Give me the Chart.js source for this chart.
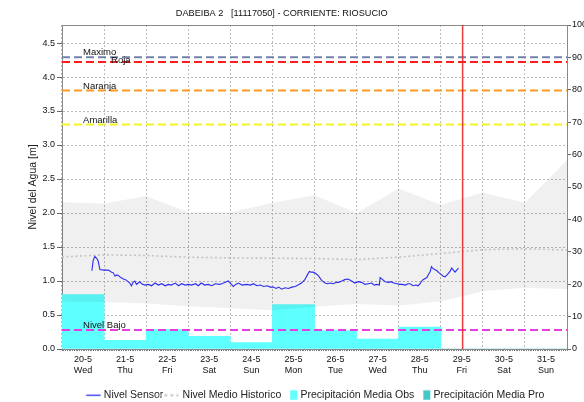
<!DOCTYPE html>
<html>
<head>
<meta charset="utf-8">
<script src="https://cdn.jsdelivr.net/npm/chart.js@4.4.1/dist/chart.umd.min.js"></script>
<style>
  html, body { margin: 0; padding: 0; background: #fff; }
</style>
</head>
<body>
<canvas id="chart" width="584" height="402"></canvas>
<script>
// x axis: one tick per day (0 = 20-5), range runs half a day past each end
const dayLabels = ['20-5', '21-5', '22-5', '23-5', '24-5', '25-5', '26-5', '27-5', '28-5', '29-5', '30-5', '31-5'];
const dayNames = ['Wed', 'Thu', 'Fri', 'Sat', 'Sun', 'Mon', 'Tue', 'Wed', 'Thu', 'Fri', 'Sat', 'Sun'];
const xMin = -0.5;
const xMax = 11.5;
const levelMax = 4.765;
const precipMax = 100;

// Nivel Sensor (m), position in days
const sensorDay = [
  0.21, 0.24, 0.28, 0.33, 0.36, 0.40, 0.50, 0.60, 0.68, 0.72,
  0.76, 0.80, 0.84, 0.90, 0.96, 1.01, 1.07, 1.11, 1.15, 1.19,
  1.23, 1.27, 1.31, 1.35, 1.39, 1.47, 1.55, 1.63, 1.71, 1.79,
  1.87, 1.95, 2.03, 2.10, 2.19, 2.27, 2.34, 2.43, 2.51, 2.58,
  2.67, 2.74, 2.81, 2.89, 2.97, 3.06, 3.14, 3.25, 3.34, 3.45,
  3.51, 3.57, 3.63, 3.69, 3.78, 3.89, 3.98, 4.05, 4.13, 4.21,
  4.29, 4.38, 4.45, 4.52, 4.59, 4.65, 4.72, 4.80, 4.88, 4.96,
  5.04, 5.11, 5.19, 5.27, 5.33, 5.38, 5.42, 5.47, 5.53, 5.59,
  5.67, 5.75, 5.81, 5.87, 5.95, 6.01, 6.07, 6.15, 6.22, 6.30,
  6.38, 6.46, 6.54, 6.62, 6.70, 6.78, 6.86, 6.92, 6.98, 7.04,
  7.06, 7.12, 7.18, 7.26, 7.32, 7.38, 7.46, 7.52, 7.58, 7.66,
  7.72, 7.77, 7.84, 7.91, 7.96, 8.01, 8.06, 8.11, 8.17, 8.21,
  8.25, 8.28, 8.32, 8.36, 8.41, 8.46, 8.52, 8.56, 8.60, 8.65,
  8.69, 8.72, 8.76, 8.80, 8.84, 8.88, 8.92
];
const sensorLevel = [
  1.15, 1.30, 1.36, 1.33, 1.29, 1.17, 1.16, 1.16, 1.13, 1.12,
  1.07, 1.09, 1.08, 1.05, 1.03, 1.02, 0.99, 0.97, 0.93, 0.98,
  1.00, 0.95, 0.97, 0.99, 0.96, 0.94, 0.95, 0.93, 0.97, 0.94,
  0.96, 0.93, 0.95, 0.94, 0.97, 0.93, 0.96, 0.94, 0.95, 0.94,
  0.96, 0.93, 0.97, 0.94, 0.95, 0.93, 0.96, 0.95, 0.97, 1.00,
  0.96, 0.92, 0.95, 0.97, 0.94, 0.95, 0.94, 0.96, 0.93, 0.94,
  0.92, 0.93, 0.91, 0.91, 0.89, 0.91, 0.88, 0.90, 0.89, 0.91,
  0.92, 0.94, 0.97, 1.02, 1.09, 1.14, 1.13, 1.13, 1.11, 1.08,
  1.01, 0.97, 0.96, 0.97, 0.96, 0.98, 0.98, 1.00, 1.02, 1.03,
  1.00, 0.97, 0.99, 0.98, 0.95, 0.96, 0.97, 0.94, 0.95, 0.94,
  1.05, 1.02, 0.99, 0.98, 0.99, 0.97, 0.96, 0.95, 0.95, 0.94,
  0.96, 0.96, 0.93, 0.94, 0.93, 0.96, 1.01, 1.03, 1.05, 1.10,
  1.14, 1.21, 1.18, 1.17, 1.15, 1.12, 1.09, 1.07, 1.06, 1.09,
  1.12, 1.14, 1.19, 1.16, 1.13, 1.16, 1.19
];

// historical band and mean (m), one value per midday
const histDay = [-0.5, 0.5, 1.5, 2.5, 3.5, 4.5, 5.5, 6.5, 7.5, 8.5, 9.5, 10.5, 11.5];
const histMax = [2.16, 2.14, 2.25, 2.01, 2.01, 2.15, 2.26, 2.00, 2.36, 2.12, 2.30, 2.15, 2.78];
const histMin = [0.70, 0.69, 0.67, 0.63, 0.60, 0.57, 0.62, 0.66, 0.64, 0.70, 0.85, 0.90, 0.88];
const histMean = [1.355, 1.385, 1.375, 1.35, 1.34, 1.335, 1.33, 1.315, 1.35, 1.405, 1.46, 1.475, 1.455];

// daily precipitation (right axis)
const precipObs = [16.8, 2.7, 6.0, 3.9, 2.0, 13.7, 5.7, 3.1, 6.8, null, null, null];
const precipPro = [null, null, null, null, null, null, null, null, null, 0, 0, 0];

// alert levels (m)
const thresholdNames = ['Maximo', 'Roja', 'Naranja', 'Amarilla', 'Nivel Bajo'];
const thresholdLevels = [4.29, 4.22, 3.80, 3.30, 0.28];
const thresholdColors = ['#7282a8', '#ff1c1c', '#ff9a22', '#f4f420', '#e23ee2'];

// current time marker (days)
const nowDay = 9.02;

const FONT = "'Liberation Sans', Arial, sans-serif";

const points = (xs, ys) => xs.map((x, i) => ({ x: x, y: ys[i] }));
const daily = ys => ys.map((y, i) => ({ x: i, y: y }));

// legend swatches drawn on little canvases
function swatch(draw) {
  const c = document.createElement('canvas');
  c.width = 36;
  c.height = 12;
  draw(c.getContext('2d'));
  return c;
}
const swatchSensor = swatch(g => {
  g.strokeStyle = '#2b2bef'; g.lineWidth = 1.3;
  g.beginPath(); g.moveTo(12.5, 6.5); g.lineTo(27, 6.5); g.stroke();
});
const swatchMean = swatch(g => {
  g.strokeStyle = '#c4c4c4'; g.lineWidth = 2; g.setLineDash([3, 3]);
  g.beginPath(); g.moveTo(6, 6.5); g.lineTo(26, 6.5); g.stroke();
});
const swatchObs = swatch(g => { g.fillStyle = '#5effff'; g.fillRect(20, 1.5, 7, 9.5); });
const swatchPro = swatch(g => { g.fillStyle = '#44c8c8'; g.fillRect(20, 1.5, 7, 9.5); });

const datasets = [
  {
    label: 'Nivel Sensor', type: 'line', yAxisID: 'y', order: 2,
    data: points(sensorDay, sensorLevel),
    borderColor: '#2b2bef', borderWidth: 1.1, pointRadius: 0, tension: 0
  },
  {
    label: 'Nivel Medio Historico', type: 'line', yAxisID: 'y', order: 4,
    data: points(histDay, histMean),
    borderColor: '#c2c2c2', borderWidth: 1.6, borderDash: [2, 2.5], pointRadius: 0
  },
  {
    label: 'Precipitación Media Obs', type: 'bar', yAxisID: 'y2', order: 10,
    data: daily(precipObs), backgroundColor: '#5effff', borderWidth: 0,
    grouped: false, barPercentage: 1, categoryPercentage: 1
  },
  {
    label: 'Precipitación Media Pro', type: 'bar', yAxisID: 'y2', order: 10,
    data: daily(precipPro), backgroundColor: '#44c8c8', borderWidth: 0,
    grouped: false, barPercentage: 1, categoryPercentage: 1
  },
  {
    label: 'hist max', type: 'line', yAxisID: 'y', order: 9,
    data: points(histDay, histMax),
    borderWidth: 0, pointRadius: 0, fill: '+1', backgroundColor: 'rgba(0,0,0,0.058)'
  },
  {
    label: 'hist min', type: 'line', yAxisID: 'y', order: 9,
    data: points(histDay, histMin),
    borderWidth: 0, pointRadius: 0, fill: false
  },
  {
    label: 'now', type: 'line', yAxisID: 'y', order: 1,
    data: [{ x: nowDay, y: 0 }, { x: nowDay, y: levelMax }],
    borderColor: 'rgba(228,40,40,0.9)', borderWidth: 1.5, pointRadius: 0
  }
];

thresholdNames.forEach((name, i) => {
  datasets.push({
    label: name, type: 'line', yAxisID: 'y', order: 5,
    data: [{ x: xMin, y: thresholdLevels[i] }, { x: xMax, y: thresholdLevels[i] }],
    borderColor: thresholdColors[i], borderWidth: 2, borderDash: [8, 4], pointRadius: 0
  });
});

// names written just above each alert line
const thresholdText = {
  id: 'thresholdText',
  afterDatasetsDraw(chart) {
    const ctx = chart.ctx;
    const xs = chart.scales.x;
    const ys = chart.scales.y;
    ctx.save();
    ctx.font = '9.5px ' + FONT;
    ctx.fillStyle = '#111';
    ctx.textBaseline = 'alphabetic';
    thresholdNames.forEach((name, i) => {
      const y = ys.getPixelForValue(thresholdLevels[i]);
      if (name === 'Roja') {
        ctx.fillText(name, xs.getPixelForValue(0) + 28, y + 0.5);
      } else {
        ctx.fillText(name, xs.getPixelForValue(0), y - 2);
      }
    });
    ctx.restore();
  }
};

const gridDots = { color: '#bcbcbc', lineWidth: 1 };

new Chart(document.getElementById('chart'), {
  type: 'line',
  data: { datasets: datasets },
  plugins: [thresholdText],
  options: {
    responsive: false,
    devicePixelRatio: 1,
    animation: false,
    events: [],
    layout: { padding: { left: 0, right: 0, top: 0, bottom: -8 } },
    font: { family: FONT },
    plugins: {
      title: {
        display: true,
        // trailing spaces keep the title a little left of centre, as in the original
        text: 'DABEIBA 2   [11117050] - CORRIENTE: RIOSUCIO        ',
        color: '#111',
        font: { family: FONT, size: 9.2, weight: 'normal' },
        padding: { top: 8, bottom: 5.96 }
      },
      legend: {
        position: 'bottom',
        fullSize: false,
        labels: {
          usePointStyle: true,
          pointStyleWidth: 14,
          padding: 0,
          color: '#222',
          font: { family: FONT, size: 10.5 },
          generateLabels: () => [
            { text: 'Nivel Sensor', pointStyle: swatchSensor, datasetIndex: 0, fontColor: '#222', hidden: false, lineWidth: 0 },
            { text: 'Nivel Medio Historico', pointStyle: swatchMean, datasetIndex: 1, fontColor: '#222', hidden: false, lineWidth: 0 },
            { text: 'Precipitación Media Obs', pointStyle: swatchObs, datasetIndex: 2, fontColor: '#222', hidden: false, lineWidth: 0 },
            { text: 'Precipitación Media Pro', pointStyle: swatchPro, datasetIndex: 3, fontColor: '#222', hidden: false, lineWidth: 0 }
          ]
        }
      },
      tooltip: { enabled: false }
    },
    scales: {
      x: {
        type: 'linear', position: 'bottom', weight: 1, offset: false,
        min: xMin, max: xMax,
        grid: { ...gridDots, drawTicks: false },
        border: { display: false, dash: [2, 2] },
        ticks: {
          autoSkip: false, maxRotation: 0,
          padding: 3.6, color: '#111',
          font: { family: FONT, size: 9, lineHeight: 1.2 },
          callback: v => Number.isInteger(v) && dayLabels[v] ? [dayLabels[v], dayNames[v]] : ''
        },
        // one tick on every day
        afterBuildTicks: s => { s.ticks = dayLabels.map((d, i) => ({ value: i })); },
        afterFit: s => { s.height = 38.5; }
      },
      // hourly comb along the bottom edge
      xHours: {
        type: 'linear', position: 'bottom', weight: 0,
        min: xMin * 24, max: xMax * 24,
        grid: { drawOnChartArea: false, drawTicks: true, tickLength: 2, tickColor: '#7a7a7a' },
        border: { display: true, color: '#8a8a8a', width: 1 },
        ticks: { display: false, stepSize: 1 },
        afterFit: s => { s.height = 2; }
      },
      xTop: {
        type: 'linear', position: 'top',
        min: xMin, max: xMax,
        grid: { display: false, drawTicks: false },
        border: { display: true, color: '#8a8a8a', width: 1 },
        ticks: { display: false }
      },
      y: {
        type: 'linear', position: 'left',
        min: 0, max: levelMax,
        grid: { ...gridDots, tickLength: 5, tickColor: '#666', tickBorderDash: [] },
        border: { display: true, color: '#8a8a8a', width: 1, dash: [2, 2] },
        ticks: {
          stepSize: 0.5, includeBounds: false, padding: 2, color: '#111',
          font: { family: FONT, size: 9 },
          callback: v => v.toFixed(1)
        },
        title: {
          display: true, text: 'Nivel del Agua [m]', color: '#222',
          font: { family: FONT, size: 10.5 },
          padding: { top: 26.5, bottom: 0 }
        },
        afterFit: s => { s.width = 62; }
      },
      y2: {
        type: 'linear', position: 'right',
        min: 0, max: precipMax,
        grid: { drawOnChartArea: false, tickLength: 4, tickColor: '#666' },
        border: { display: true, color: '#8a8a8a', width: 1 },
        ticks: {
          stepSize: 10, includeBounds: false, padding: 1, color: '#111',
          font: { family: FONT, size: 9 }
        },
        afterFit: s => { s.width = 17; }
      }
    }
  }
});
</script>
</body>
</html>
